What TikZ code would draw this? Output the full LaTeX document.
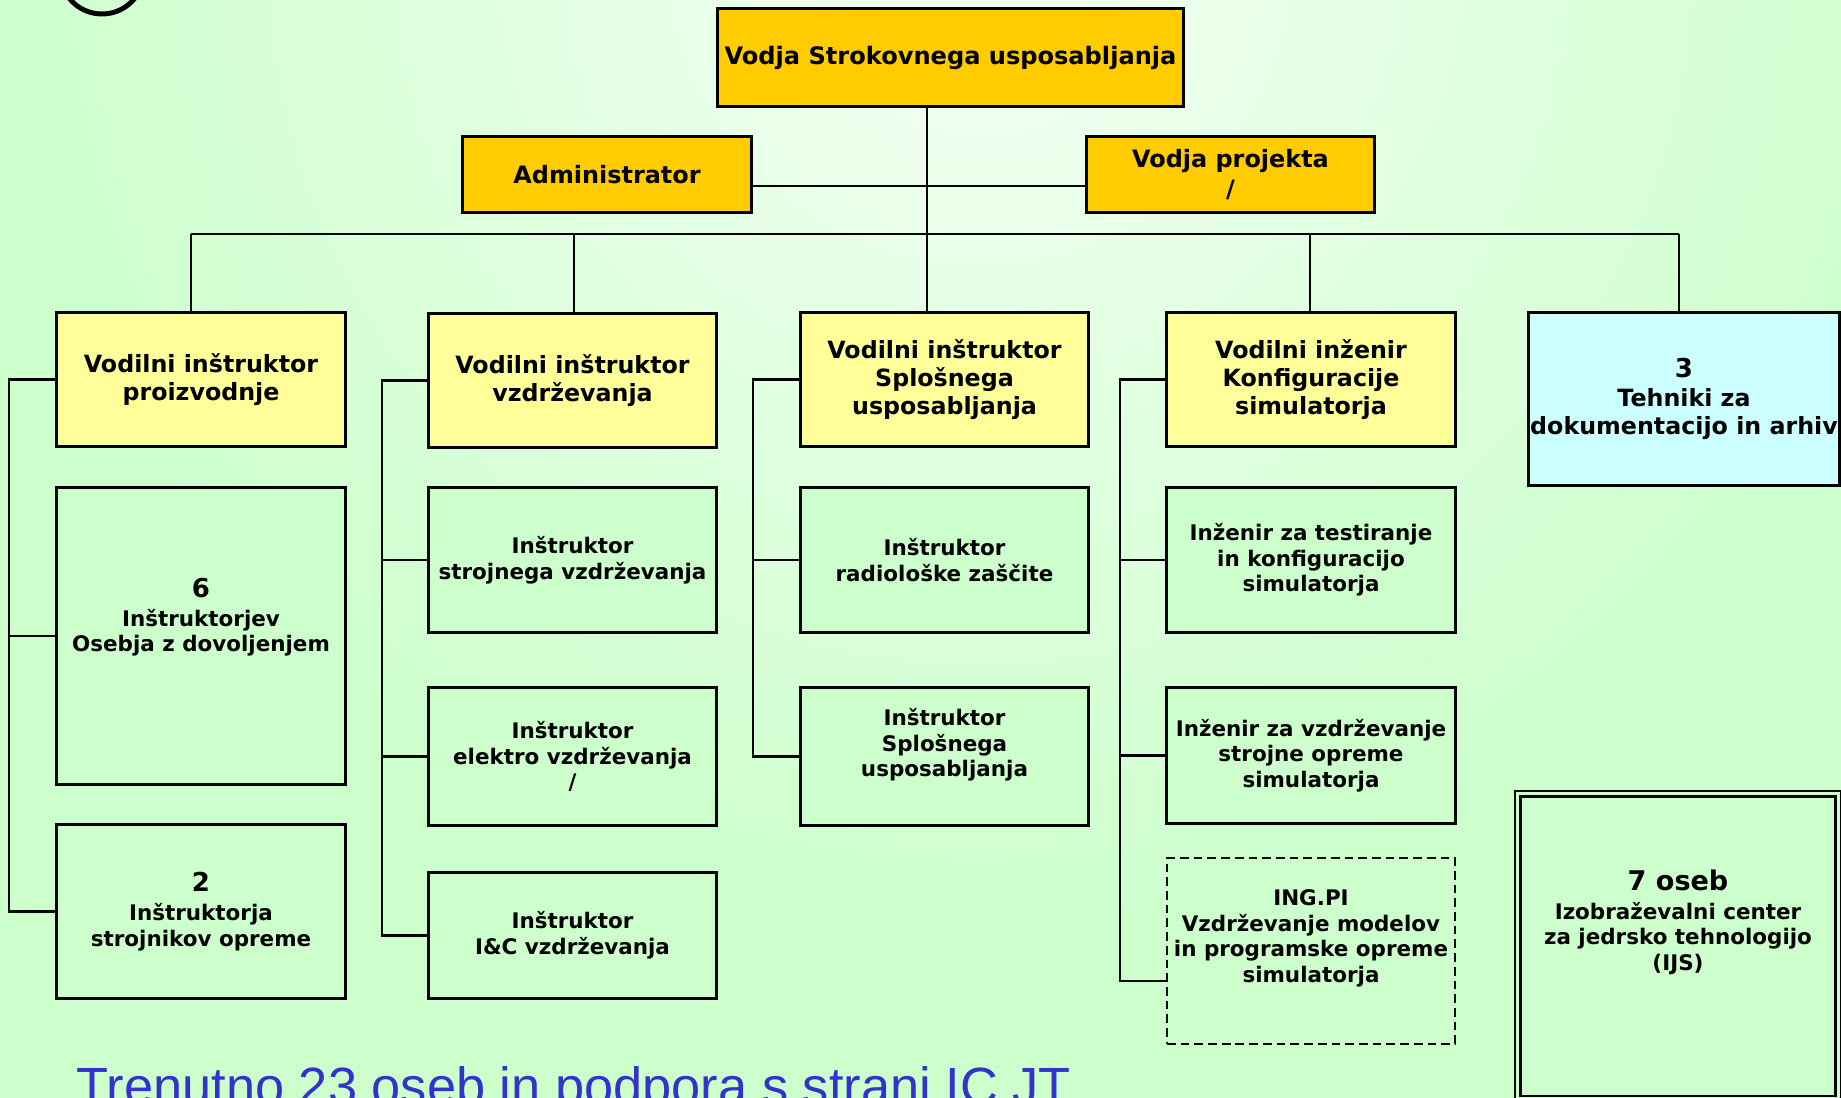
\documentclass[tikz,border=0pt]{standalone}
\usepackage{fontspec}
\setmainfont{DejaVu Sans}
\newfontfamily\arialfont{Liberation Sans}
\definecolor{cbglight}{HTML}{F4FFF4}
\definecolor{cbg}{HTML}{CCFFCC}
\definecolor{cboss}{HTML}{FFCC00}
\definecolor{clead}{HTML}{FFFF99}
\definecolor{cstaff}{HTML}{CCFFCC}
\definecolor{carch}{HTML}{CCFFFF}
\definecolor{cnote}{HTML}{3333CC}
\newcommand{\padbelow}[1]{\rule[-#1]{0pt}{0pt}}
\newcommand{\bignum}[1]{{\fontsize{7.4}{8}\selectfont #1}}

\begin{document}
\begin{tikzpicture}[x=0.01cm, y=-0.01cm,
  every node/.style={align=center, inner sep=0pt},
  chief/.style={draw, line width=0.85pt, fill=cboss, font=\bfseries\fontsize{6.8}{8.3}\selectfont},
  lead/.style={draw, line width=0.85pt, fill=clead, minimum width=2.88cm, minimum height=1.33cm, font=\bfseries\fontsize{6.75}{8}\selectfont},
  staff/.style={draw, line width=0.85pt, fill=cstaff, minimum width=2.88cm, font=\bfseries\fontsize{6.1}{7.3}\selectfont},
  link/.style={line width=0.65pt}]
\useasboundingbox (0,0) rectangle (1841,1098);
% background
\fill[cbg] (0,0) rectangle (1841,1098);
\begin{scope}
\clip (0,0) rectangle (1841,1098);
\shade[inner color=cbglight, outer color=cbg] (980,-50) circle (1000);
\draw[line width=1.4pt] (102,-28) circle (42);
\end{scope}

% top level
\node[chief, minimum width=4.65cm, minimum height=0.97cm, font=\bfseries\fontsize{6.85}{8.3}\selectfont] (vodja) at (950.5,57.5) {Vodja Strokovnega usposabljanja};
\node[chief, minimum width=2.88cm, minimum height=0.75cm] (admin) at (607,174.5) {Administrator};
\node[chief, minimum width=2.87cm, minimum height=0.75cm] (projekt) at (1230.5,174.5) {Vodja projekta\\/};

% heads of the columns
\node[lead] (proizv) at (201,379.5) {Vodilni inštruktor\\proizvodnje};
\node[lead] (vzdrz) at (572.5,380.5) {Vodilni inštruktor\\vzdrževanja};
\node[lead] (splos) at (944.5,379.5) {Vodilni inštruktor\\Splošnega\\usposabljanja};
\node[lead] (konfig) at (1311,379.5) {Vodilni inženir\\Konfiguracije\\simulatorja};
\node[lead, fill=carch, minimum width=3.10cm, minimum height=1.72cm] (arhiv) at (1684,399) {\bignum{3}\\Tehniki za\\dokumentacijo in arhiv};

% staff
\node[staff, minimum height=2.96cm] (dovolj) at (201,636) {\bignum{6}\\[1pt]Inštruktorjev\\Osebja z dovoljenjem\padbelow{12pt}};
\node[staff, minimum height=1.73cm] (strojn) at (201,911.5) {\bignum{2}\\[1pt]Inštruktorja\\strojnikov opreme};
\node[staff, minimum height=1.44cm] (strojvz) at (572.5,560) {Inštruktor\\strojnega vzdrževanja};
\node[staff, minimum height=1.37cm] (elektro) at (572.5,756.5) {Inštruktor\\elektro vzdrževanja\\/};
\node[staff, minimum height=1.25cm] (ic) at (572.5,935.5) {Inštruktor\\I\&C vzdrževanja};
\node[staff, minimum height=1.44cm] (radio) at (944.5,560) {Inštruktor\\radiološke zaščite};
\node[staff, minimum height=1.37cm] (splinstr) at (944.5,756.5) {Inštruktor\\Splošnega\\usposabljanja\padbelow{8pt}};
\node[staff, minimum height=1.44cm] (test) at (1311,560) {Inženir za testiranje\\in konfiguracijo\\simulatorja};
\node[staff, minimum height=1.35cm] (opreme) at (1311,755.5) {Inženir za vzdrževanje\\strojne opreme\\simulatorja};
\node[staff, dash pattern=on 2.5pt off 1.4pt, line width=0.6pt, minimum height=1.86cm] (ingpi) at (1311,951) {ING.PI\\Vzdrževanje modelov\\in programske opreme\\simulatorja\padbelow{8.5pt}};
\node[staff, line width=0.6pt, double=cstaff, double distance=0.9pt, minimum width=3.20cm, minimum height=3.05cm] (ijs) at (1678,946.5) {{\fontsize{7.7}{9}\selectfont 7 oseb}\\[1pt]Izobraževalni center\\za jedrsko tehnologijo\\(IJS)\padbelow{15pt}};

% connectors
\coordinate (hub) at (927,186);
\coordinate (busL) at (191,234);
\coordinate (busR) at (1679,234);
\draw[link] (vodja.south -| hub) -- (hub |- busL);
\draw[link] (admin.east |- hub) -- (projekt.west |- hub);
\draw[link] (busL) -- (busR);
\foreach \x/\n in {191/proizv, 574/vzdrz, 927/splos, 1310/konfig, 1679/arhiv}
  \draw[link] (\x,234) -- (\x,0 |- \n.north);
\foreach \hd/\lst/\bx in {proizv/strojn/9, vzdrz/ic/382, splos/splinstr/753}
  \draw[link] (\hd.west) -- (\bx,0 |- \hd.west) -- (\bx,0 |- \lst.west) -- (\lst.west);
\coordinate (ingtap) at (ingpi.west |- 0,981);
\draw[link] (konfig.west) -- (1120,0 |- konfig.west) -- (1120,0 |- ingtap) -- (ingtap);
\foreach \n/\bx in {dovolj/9, strojvz/382, elektro/382, radio/753, test/1120, opreme/1120}
  \draw[link] (\bx,0 |- \n.west) -- (\n.west);

% note at the bottom
\node[font=\arialfont\fontsize{14.9}{17}\selectfont, text=cnote, anchor=base west] (note) at (76,1105) {Trenutno 23 oseb in podpora s strani IC.JT};
\end{tikzpicture}
\end{document}
